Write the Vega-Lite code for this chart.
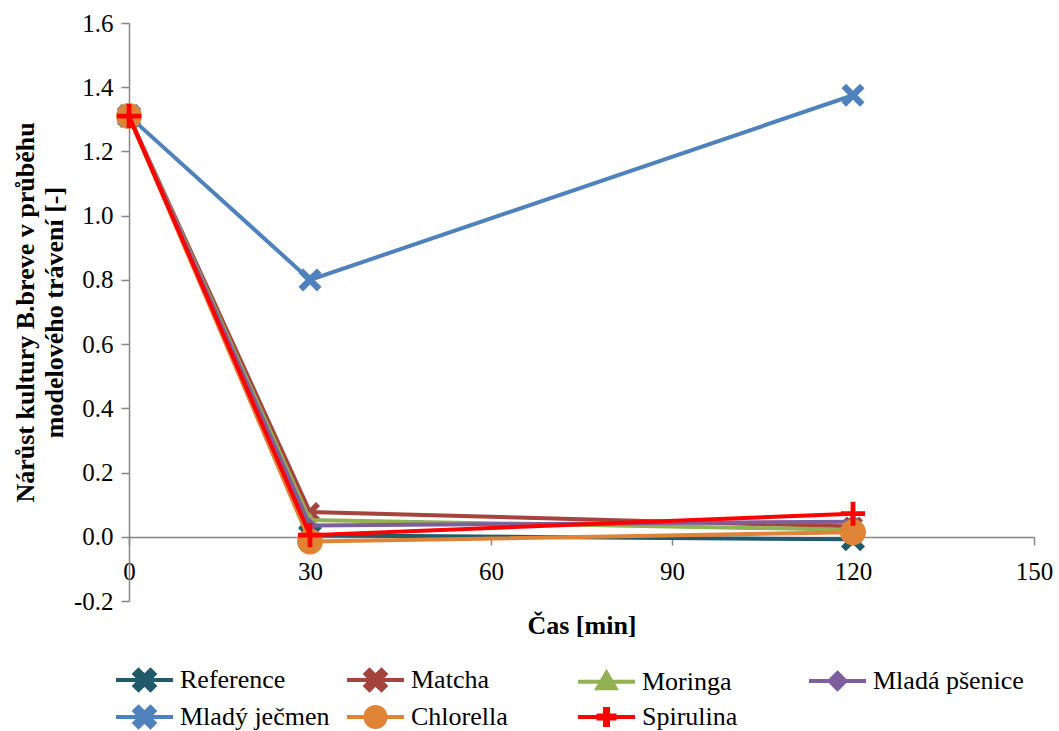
{
  "$schema": "https://vega.github.io/schema/vega-lite/v6.json",
  "width": 905,
  "height": 578,
  "autosize": "none",
  "padding": {"left": 129, "top": 23, "right": 25, "bottom": 130},
  "background": "white",
  "config": {
    "view": {"stroke": null},
    "font": "Liberation Serif",
    "axis": {"grid": false, "domainColor": "#868686", "domainWidth": 1.5, "tickColor": "#868686", "tickWidth": 1.5, "tickSize": 8, "labelFont": "Liberation Serif", "labelFontSize": 25, "labelColor": "black", "labelFlush": false, "titleFont": "Liberation Serif", "titleFontSize": 26, "titleFontWeight": "bold", "titleColor": "black"},
    "legend": {"labelFont": "Liberation Serif", "labelFontSize": 26, "labelColor": "black", "titleFont": "Liberation Serif"}
  },
  "data": {
    "values": [
      {"series": "Reference", "time": 0, "value": 1.31},
      {"series": "Reference", "time": 30, "value": 0.005},
      {"series": "Reference", "time": 120, "value": -0.008},
      {"series": "Matcha", "time": 0, "value": 1.31},
      {"series": "Matcha", "time": 30, "value": 0.077},
      {"series": "Matcha", "time": 120, "value": 0.032},
      {"series": "Moringa", "time": 0, "value": 1.31},
      {"series": "Moringa", "time": 30, "value": 0.052},
      {"series": "Moringa", "time": 120, "value": 0.022},
      {"series": "Mladá pšenice", "time": 0, "value": 1.31},
      {"series": "Mladá pšenice", "time": 30, "value": 0.035},
      {"series": "Mladá pšenice", "time": 120, "value": 0.047},
      {"series": "Mladý ječmen", "time": 0, "value": 1.31},
      {"series": "Mladý ječmen", "time": 30, "value": 0.8},
      {"series": "Mladý ječmen", "time": 120, "value": 1.375},
      {"series": "Chlorella", "time": 0, "value": 1.31},
      {"series": "Chlorella", "time": 30, "value": -0.015},
      {"series": "Chlorella", "time": 120, "value": 0.014},
      {"series": "Spirulina", "time": 0, "value": 1.31},
      {"series": "Spirulina", "time": 30, "value": 0.005},
      {"series": "Spirulina", "time": 120, "value": 0.072}
    ]
  },
  "encoding": {
    "x": {"field": "time", "type": "quantitative", "scale": {"domain": [0, 150], "nice": false, "zero": false},
      "axis": {"values": [0, 30, 60, 90, 120, 150], "offset": -64, "labelPadding": 14, "title": "Čas [min]", "titlePadding": 28}},
    "y": {"field": "value", "type": "quantitative", "scale": {"domain": [-0.2, 1.6], "nice": false, "zero": false},
      "axis": {"values": [-0.2, 0, 0.2, 0.4, 0.6, 0.8, 1.0, 1.2, 1.4, 1.6], "labelExpr": "datum.value < 0 ? '-' + format(-datum.value, '.1f') : format(datum.value, '.1f')", "labelPadding": 8, "title": ["Nárůst kultury B.breve v průběhu", "modelového trávení  [-]"], "titleLineHeight": 29, "titlePadding": 6}}
  },
  "layer": [
    {
      "transform": [{"filter": {"field": "series", "equal": "Reference"}}],
      "mark": {"type": "line", "strokeWidth": 4, "color": "#215a69", "point": {"shape": "M-1,-0.6L-0.6,-1L0,-0.4L0.6,-1L1,-0.6L0.4,0L1,0.6L0.6,1L0,0.4L-0.6,1L-1,0.6L-0.4,0Z", "size": 576, "filled": true, "color": "#215a69"}}
    },
    {
      "transform": [{"filter": {"field": "series", "equal": "Matcha"}}],
      "mark": {"type": "line", "strokeWidth": 4, "color": "#a5433e", "point": {"shape": "M-1,-0.6L-0.6,-1L0,-0.4L0.6,-1L1,-0.6L0.4,0L1,0.6L0.6,1L0,0.4L-0.6,1L-1,0.6L-0.4,0Z", "size": 400, "filled": true, "color": "#a5433e"}}
    },
    {
      "transform": [{"filter": {"field": "series", "equal": "Moringa"}}],
      "mark": {"type": "line", "strokeWidth": 4, "color": "#92b054", "point": {"shape": "M0,-1L1,0.75L-1,0.75Z", "size": 256, "filled": true, "color": "#92b054"}}
    },
    {
      "transform": [{"filter": {"field": "series", "equal": "Mladá pšenice"}}],
      "mark": {"type": "line", "strokeWidth": 4, "color": "#7d5f9e", "point": {"shape": "M0,-1L1,0L0,1L-1,0Z", "size": 225, "filled": true, "color": "#7d5f9e"}}
    },
    {
      "transform": [{"filter": {"field": "series", "equal": "Mladý ječmen"}}],
      "mark": {"type": "line", "strokeWidth": 4, "color": "#4f81bd", "point": {"shape": "M-1,-0.6L-0.6,-1L0,-0.4L0.6,-1L1,-0.6L0.4,0L1,0.6L0.6,1L0,0.4L-0.6,1L-1,0.6L-0.4,0Z", "size": 529, "filled": true, "color": "#4f81bd"}}
    },
    {
      "transform": [{"filter": {"field": "series", "equal": "Chlorella"}}],
      "mark": {"type": "line", "strokeWidth": 4, "color": "#df8436", "point": {"shape": "M-1,0A1,1 0 1,0 1,0A1,1 0 1,0 -1,0Z", "size": 676, "filled": true, "color": "#df8436"}}
    },
    {
      "transform": [{"filter": {"field": "series", "equal": "Spirulina"}}],
      "mark": {"type": "line", "strokeWidth": 4, "color": "#ff0000", "point": {"shape": "M-0.2,-1H0.2V-0.2H1V0.2H0.2V1H-0.2V0.2H-1V-0.2H-0.2Z", "size": 576, "filled": true, "color": "#ff0000"}}
    },
    {
      "mark": {"type": "point", "filled": true, "size": 400, "strokeWidth": 4, "opacity": 0},
      "encoding": {
        "fill": {"field": "series", "type": "nominal", "title": null,
          "scale": {"domain": ["Reference", "Matcha", "Moringa", "Mladá pšenice", "Mladý ječmen", "Chlorella", "Spirulina"], "range": ["#215a69", "#a5433e", "#92b054", "#7d5f9e", "#4f81bd", "#df8436", "#ff0000"]},
          "legend": {"orient": "none", "direction": "horizontal", "legendX": -16, "legendY": 644, "columns": 4, "gridAlign": "all", "columnPadding": 8, "rowPadding": 1, "symbolSize": 400, "symbolStrokeWidth": 4, "labelOffset": 41, "labelFont": "Liberation Serif", "labelFontSize": 26, "labelColor": "black", "labelLimit": 400,
            "encode": {
              "symbols": {"update": {"opacity": {"value": 1}, "fillOpacity": {"value": 1}, "strokeOpacity": {"value": 1}}},
              "labels": {"update": {"font": {"value": "Liberation Serif"}, "fontSize": {"value": 26}, "fill": {"value": "black"}}}
            }}},
        "stroke": {"field": "series", "type": "nominal", "title": null,
          "scale": {"domain": ["Reference", "Matcha", "Moringa", "Mladá pšenice", "Mladý ječmen", "Chlorella", "Spirulina"], "range": ["#215a69", "#a5433e", "#92b054", "#7d5f9e", "#4f81bd", "#df8436", "#ff0000"]}},
        "shape": {"field": "series", "type": "nominal", "title": null,
          "scale": {"domain": ["Reference", "Matcha", "Moringa", "Mladá pšenice", "Mladý ječmen", "Chlorella", "Spirulina"],
            "range": [
              "M-1,0H4.7M0.85,-0.6L1.25,-1L1.85,-0.4L2.45,-1L2.85,-0.6L2.25,0L2.85,0.6L2.45,1L1.85,0.4L1.25,1L0.85,0.6L1.45,0Z",
              "M-1,0H4.7M0.85,-0.6L1.25,-1L1.85,-0.4L2.45,-1L2.85,-0.6L2.25,0L2.85,0.6L2.45,1L1.85,0.4L1.25,1L0.85,0.6L1.45,0Z",
              "M-1,0H4.7M1.85,-0.9L2.75,0.65L0.95,0.65Z",
              "M-1,0H4.7M1.85,-0.8L2.65,0L1.85,0.8L1.05,0Z",
              "M-1,0H4.7M0.85,-0.6L1.25,-1L1.85,-0.4L2.45,-1L2.85,-0.6L2.25,0L2.85,0.6L2.45,1L1.85,0.4L1.25,1L0.85,0.6L1.45,0Z",
              "M-1,0H4.7M0.85,0A1,1 0 1,0 2.85,0A1,1 0 1,0 0.85,0Z",
              "M-1,0H4.7M1.7,-0.8H2V-0.15H2.65V0.15H2V0.8H1.7V0.15H1.05V-0.15H1.7Z"
            ]}}
      }
    }
  ]
}
